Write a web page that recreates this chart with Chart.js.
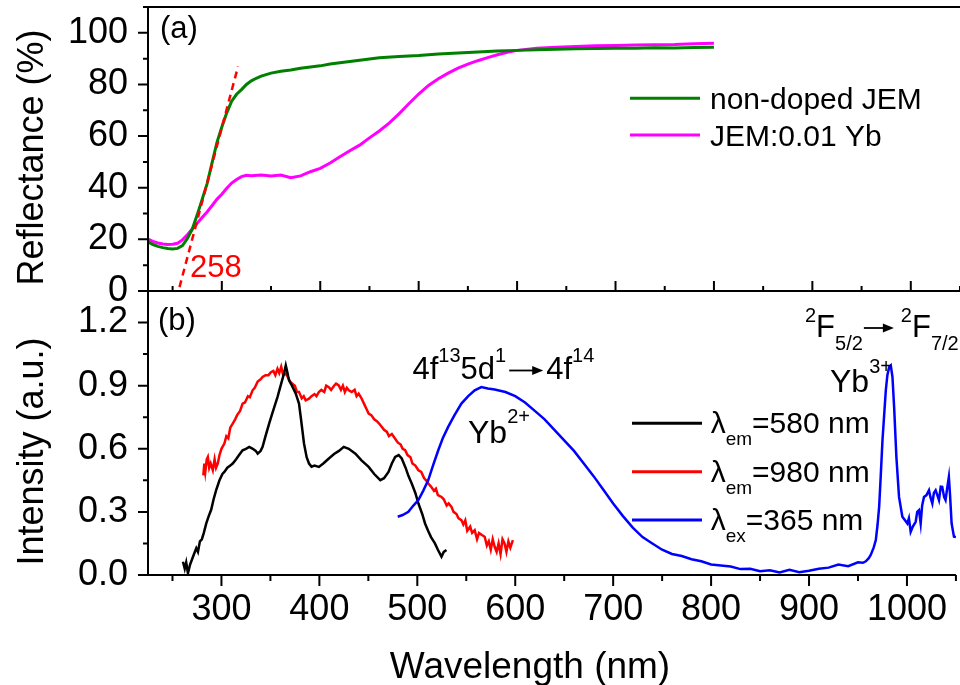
<!DOCTYPE html>
<html><head><meta charset="utf-8">
<script src="https://cdn.jsdelivr.net/npm/chart.js@4.4.1/dist/chart.umd.min.js"></script>
<style>
html,body{margin:0;padding:0;background:#fff;}
#wrap{position:relative;width:960px;height:685px;overflow:hidden;background:#fff;}
canvas{position:absolute;left:0;top:0;}
</style></head><body>
<div id="wrap"><canvas id="cb" width="960" height="685"></canvas><canvas id="ct" width="960" height="685"></canvas></div>
<script>
// ---------- data ----------
const seriesTop = ['non-doped JEM', 'JEM:0.01 Yb'];
const wlNonDoped = [225,230,235,240,245,250,255,260,265,270,275,280,285,290,295,300,305,310,315,320,325,330,335,340,345,350,360,370,380,390,400,410,420,440,460,480,500,520,540,560,580,600,620,640,660,680,700,720,740,760,780,800];
const reflNonDoped = [19.1,18.0,17.3,16.8,16.5,16.3,16.5,17.6,20.3,24.0,29.5,35.5,41.5,49.5,57.5,63.5,69.0,73.5,76.2,78.0,80.0,81.4,82.4,83.2,83.8,84.4,85.1,85.6,86.3,86.8,87.2,87.9,88.4,89.4,90.3,90.8,91.2,91.8,92.2,92.6,93.0,93.2,93.4,93.6,93.8,93.9,94.0,94.0,94.2,94.1,94.3,94.4];
const wlDoped = [225,230,235,240,245,250,255,260,265,270,275,280,285,290,295,300,305,310,315,320,325,330,340,350,360,370,380,390,400,410,420,430,440,450,460,470,480,490,500,510,520,530,540,550,560,570,580,590,600,620,640,660,680,700,720,740,760,780,800];
const reflDoped = [20.1,19.2,18.6,18.2,18.0,18.1,18.5,19.8,21.8,24.0,26.2,28.5,30.6,33.0,35.5,37.5,39.8,41.8,43.2,44.3,44.8,44.6,44.9,44.5,44.9,43.9,44.6,46.2,47.5,49.6,52.0,54.3,56.5,59.3,62.0,65.0,68.6,72.5,76.3,79.6,82.2,84.4,86.3,87.9,89.2,90.4,91.5,92.5,93.2,94.0,94.4,94.7,95.0,95.1,95.3,95.4,95.5,95.8,96.0];
const tangentWl = [257, 316.5];
const tangentRefl = [1.5, 87];
const edgeLabel = '258';

const seriesBottom = [['λ','em','=580 nm'], ['λ','em','=980 nm'], ['λ','ex','=365 nm']];
const wlEm580 = [260.7,262.5,264,265.8,268,270,272,274.3,276,278,280,282,284.5,287,289.5,292,294.6,298,301,303,306,309,311.5,315,318,321.6,325,328.4,332,335,337,340,342,345,348.7,352,357.2,361,364,365.7,367,369,372,375.9,379.2,381,384.3,387,389.4,392,395,399.5,404,409.7,415,420,424.9,430,436.8,443,450.3,456,462.2,466,470.6,474,477.4,481,484.1,488,491,494.3,498,501.1,505,507.9,511,514,518,521,524.7,527,529.8];
const intEm580 = [0.063,0.03,0.06,0.008,0.05,0.075,0.1,0.127,0.11,0.16,0.17,0.2,0.245,0.28,0.31,0.36,0.403,0.45,0.48,0.49,0.51,0.52,0.53,0.55,0.57,0.593,0.6,0.609,0.6,0.59,0.577,0.59,0.609,0.66,0.72,0.77,0.846,0.91,0.96,0.996,0.97,0.925,0.9,0.862,0.815,0.75,0.625,0.56,0.53,0.515,0.52,0.514,0.53,0.554,0.575,0.59,0.609,0.6,0.577,0.545,0.514,0.48,0.451,0.46,0.49,0.53,0.561,0.57,0.554,0.51,0.47,0.435,0.39,0.34,0.29,0.245,0.21,0.18,0.15,0.12,0.087,0.11,0.119];
const wlEm980 = [281.5,282.5,283.5,285,286.1,287.5,289,291.2,293,294.5,296.3,298,300,303,305,307,309,311.5,314,316,319,321.6,324,327,329,331.8,334,337,340,342,345,348,350.5,353,355,357.2,359,361,363,365.7,368,370,372.4,375,377,379.2,382,384,386,389.4,392,395,397,399.5,402,405,407,409.7,412,415,417,419.8,422,424,426,428,430,433,436,438,440.1,443,446,448,450.3,453,456,459,461,463.8,466,469,471,474,477.4,480,483,485,487.6,490,493,495,498,501.1,504,507,509,511.2,514,517,519,521,524.7,527,530,532,534.9,537,540,542,545,547,549,551,554,556,558.6,561,563,566,568.8,571,573,575,577,579,581,583,585,587,589.1,591,593,595,597.6];
const intEm980 = [0.474,0.53,0.49,0.55,0.561,0.51,0.53,0.498,0.55,0.51,0.53,0.57,0.6,0.625,0.66,0.65,0.7,0.72,0.74,0.76,0.78,0.815,0.82,0.85,0.845,0.878,0.89,0.92,0.93,0.941,0.95,0.95,0.964,0.97,0.95,0.98,0.96,0.99,0.95,0.957,0.94,0.92,0.909,0.9,0.87,0.87,0.84,0.85,0.83,0.838,0.85,0.86,0.85,0.87,0.88,0.87,0.9,0.893,0.88,0.9,0.91,0.901,0.88,0.9,0.87,0.89,0.878,0.87,0.88,0.85,0.862,0.84,0.81,0.79,0.767,0.76,0.74,0.73,0.72,0.704,0.69,0.68,0.66,0.67,0.648,0.63,0.62,0.6,0.593,0.57,0.56,0.53,0.52,0.498,0.49,0.46,0.45,0.435,0.42,0.4,0.41,0.38,0.371,0.36,0.33,0.34,0.324,0.3,0.29,0.27,0.261,0.24,0.26,0.21,0.23,0.2,0.213,0.17,0.2,0.19,0.182,0.14,0.16,0.12,0.17,0.134,0.11,0.15,0.1,0.17,0.15,0.11,0.16,0.13,0.166];
const wlEx365 = [480,485,490.9,496,501.1,506,511.2,516,521.4,526,531.5,538,545,552,558.6,565.4,572,579,590,600,610,620,630,640,650,660,670,680,690,700,710,720,730,740,750,760,770,780,790,800,810,820,830,840,850,860,870,880,890,900,910,920,930,940,950,955,958,961,963,966,968.2,970,971.6,973,975,977,978.4,980,981.8,983.5,985.2,986.9,989.2,991.9,995.3,998,1000.4,1002,1003.8,1006,1008.9,1010.5,1012.3,1014,1015.5,1017.4,1020,1022.5,1024,1025.9,1027.5,1029.3,1031,1032.7,1034.5,1036,1038,1039.4,1041,1042.8,1044,1045.6,1048,1050];
const intEx365 = [0.277,0.285,0.3,0.33,0.356,0.4,0.451,0.52,0.593,0.65,0.704,0.76,0.815,0.85,0.878,0.893,0.887,0.882,0.87,0.85,0.82,0.78,0.74,0.69,0.64,0.59,0.53,0.47,0.405,0.34,0.28,0.225,0.18,0.15,0.12,0.1,0.09,0.075,0.065,0.05,0.045,0.04,0.028,0.03,0.018,0.022,0.012,0.025,0.013,0.02,0.03,0.035,0.05,0.042,0.06,0.058,0.065,0.08,0.095,0.13,0.166,0.24,0.324,0.45,0.64,0.78,0.878,0.95,0.988,0.996,0.941,0.798,0.561,0.371,0.277,0.26,0.245,0.27,0.205,0.23,0.253,0.3,0.308,0.245,0.33,0.371,0.38,0.403,0.37,0.34,0.39,0.403,0.38,0.356,0.42,0.419,0.37,0.356,0.41,0.466,0.38,0.245,0.182,0.18];

const xMajorTicks = [300,400,500,600,700,800,900,1000];
const xMinorTicks = [250,350,450,550,650,750,850,950,1050];
const yTopMajor = [0,20,40,60,80,100];
const yTopMinor = [10,30,50,70,90,110];
const yBotMajor = [0,0.3,0.6,0.9,1.2];
const yBotMinor = [0.15,0.45,0.75,1.05,1.35];

// ---------- helpers ----------
const FONT = '"Liberation Sans", Arial, Helvetica, sans-serif';
function pts(xs, ys){ return xs.map((x,i)=>({x:x, y:ys[i]})); }
function line(ctx, x1, y1, x2, y2){ ctx.moveTo(x1,y1); ctx.lineTo(x2,y2); }
function arrow(ctx, x1, x2, y){
  ctx.save();
  ctx.strokeStyle = ctx.fillStyle; ctx.lineWidth = 1.8;
  ctx.beginPath(); ctx.moveTo(x1, y); ctx.lineTo(x2 - 8, y); ctx.stroke();
  ctx.beginPath(); ctx.moveTo(x2, y); ctx.lineTo(x2 - 11, y - 4.5); ctx.lineTo(x2 - 11, y + 4.5); ctx.closePath(); ctx.fill();
  ctx.restore();
}
// parts: [text, size, dy]  or ['ARROW', {pre, len, post, dy}]
function rich(ctx, x, y, parts){
  let cx = x;
  for (const p of parts){
    if (p[0] === 'ARROW'){
      const o = p[1];
      arrow(ctx, cx + o.pre, cx + o.pre + o.len, y + o.dy);
      cx += o.pre + o.len + o.post;
      continue;
    }
    const [t, size, dy] = p;
    ctx.font = size + 'px ' + FONT;
    ctx.fillText(t, cx, y + dy);
    cx += ctx.measureText(t).width;
  }
  return cx;
}
const noPad = w => s => { s.width = w; s.paddingTop = 0; s.paddingBottom = 0; };

const COLORS = {green:'#008000', magenta:'#ff00ff', red:'#ff0000', black:'#000000', blue:'#0000ff'};

// ---------- top panel ----------
const topPlugin = {
  id: 'topDecor',
  afterDraw(chart){
    const {ctx, chartArea:a, scales:{x, y}} = chart;
    ctx.save();
    ctx.strokeStyle = '#000'; ctx.lineWidth = 2;
    ctx.beginPath();
    line(ctx, a.left, a.bottom + 1, a.left, a.top);
    line(ctx, a.left - 1, a.top, a.right, a.top);
    line(ctx, a.left - 1, a.bottom, a.right, a.bottom);
    yTopMajor.forEach(v => { const p = y.getPixelForValue(v); line(ctx, a.left - 10, p, a.left, p); });
    yTopMinor.forEach(v => { const p = y.getPixelForValue(v); line(ctx, a.left - 5, p, a.left, p); });
    xMajorTicks.forEach(v => { const p = x.getPixelForValue(v); line(ctx, p, a.bottom, p, a.bottom - 10); });
    xMinorTicks.forEach(v => { const p = x.getPixelForValue(v); line(ctx, p, a.bottom, p, a.bottom - 5); });
    ctx.stroke();

    ctx.fillStyle = '#000'; ctx.textBaseline = 'alphabetic'; ctx.textAlign = 'left';
    ctx.font = '31px ' + FONT; ctx.fillText('(a)', 160, 38);
    ctx.fillStyle = COLORS.red; ctx.fillText(edgeLabel, 190, 277);

    // legend
    const ds = chart.data.datasets;
    const rows = [[ds[1], 98.3, 109.3], [ds[2], 135, 146]];
    ctx.lineWidth = 3;
    rows.forEach(([d, ly, by]) => {
      ctx.strokeStyle = d.borderColor; ctx.beginPath(); line(ctx, 630, ly, 700, ly); ctx.stroke();
      ctx.fillStyle = '#000'; ctx.font = '30px ' + FONT; ctx.fillText(d.label, 710, by);
    });

    // y title
    ctx.save();
    ctx.translate(43, 157.5); ctx.rotate(-Math.PI/2);
    ctx.textAlign = 'center'; ctx.fillStyle = '#000'; ctx.font = '36px ' + FONT;
    ctx.fillText('Reflectance (%)', 0, 0);
    ctx.restore();
    ctx.restore();
  }
};

new Chart(document.getElementById('ct'), {
  type: 'line',
  data: { datasets: [
    {label:'tangent', data: pts(tangentWl, tangentRefl), borderColor: COLORS.red, borderWidth: 2.5, borderDash:[7,5], pointRadius:0, tension:0, order:0},
    {label: seriesTop[0], data: pts(wlNonDoped, reflNonDoped), borderColor: COLORS.green, borderWidth: 3, pointRadius:0, tension:0, order:1},
    {label: seriesTop[1], data: pts(wlDoped, reflDoped), borderColor: COLORS.magenta, borderWidth: 3, pointRadius:0, tension:0, order:2}
  ]},
  options: {
    responsive:false, animation:false, events:[],
    layout:{padding:{top:7, bottom:394, left:0, right:0}},
    plugins:{legend:{display:false}, tooltip:{enabled:false}},
    scales:{
      x:{type:'linear', min:225, max:1050, display:false},
      y:{type:'linear', min:0, max:110,
        afterFit: noPad(148),
        afterBuildTicks: s => { s.ticks = yTopMajor.map(v => ({value:v})); },
        grid:{display:false, drawTicks:false}, border:{display:false},
        ticks:{padding:20, color:'#000', font:{family:FONT, size:36}, callback: v => String(v)}
      }
    }
  },
  plugins:[topPlugin]
});

// ---------- bottom panel ----------
const botPlugin = {
  id: 'botDecor',
  afterDraw(chart){
    const {ctx, chartArea:a, scales:{x, y}} = chart;
    ctx.save();
    ctx.strokeStyle = '#000'; ctx.lineWidth = 2;
    ctx.beginPath();
    line(ctx, a.left, a.bottom + 1, a.left, a.top);
    line(ctx, a.left - 1, a.bottom, a.right, a.bottom);
    yBotMajor.forEach(v => { const p = y.getPixelForValue(v); line(ctx, a.left - 10, p, a.left, p); });
    yBotMinor.forEach(v => { const p = y.getPixelForValue(v); line(ctx, a.left - 5, p, a.left, p); });
    xMajorTicks.forEach(v => { const p = x.getPixelForValue(v); line(ctx, p, a.bottom, p, a.bottom + 11); });
    xMinorTicks.forEach(v => { const p = x.getPixelForValue(v); line(ctx, p, a.bottom, p, a.bottom + 6); });
    ctx.stroke();

    ctx.fillStyle = '#000'; ctx.textBaseline = 'alphabetic'; ctx.textAlign = 'left';
    ctx.font = '31px ' + FONT; ctx.fillText('(b)', 158, 330);
    rich(ctx, 412.5, 379, [['4f',31,0],['13',20,-17],['5d',31,0],['1',20,-17],['ARROW',{pre:3,len:34,post:3,dy:-8.5}],['4f',31,0],['14',20,-17]]);
    rich(ctx, 468, 443, [['Yb',32,0],['2+',20,-20]]);
    rich(ctx, 830, 391.7, [['Yb',32,0],['3+',20,-19]]);
    rich(ctx, 805, 336.7, [['2',20,-15],['F',31,0],['5/2',20,13],['ARROW',{pre:1,len:30,post:7,dy:-8.7}],['2',20,-15],['F',31,0],['7/2',20,13]]);

    // legend
    const ds = chart.data.datasets;
    const rows = [[ds[1], seriesBottom[0], 423.3, 433.3], [ds[2], seriesBottom[1], 471.7, 482], [ds[0], seriesBottom[2], 520, 530.3]];
    ctx.lineWidth = 3;
    rows.forEach(([d, parts, ly, by]) => {
      ctx.strokeStyle = d.borderColor; ctx.beginPath(); line(ctx, 632, ly, 702, ly); ctx.stroke();
      ctx.fillStyle = '#000';
      rich(ctx, 710.7, by, [[parts[0],30,0],[parts[1],19,12],[parts[2],30,0]]);
    });

    // axis titles
    ctx.font = '37px ' + FONT; ctx.textAlign = 'center';
    ctx.fillText('Wavelength (nm)', 530, 678);
    ctx.save();
    ctx.translate(43, 451.5); ctx.rotate(-Math.PI/2);
    ctx.font = '36px ' + FONT;
    ctx.fillText('Intensity (a.u.)', 0, 0);
    ctx.restore();
    ctx.restore();
  }
};

new Chart(document.getElementById('cb'), {
  type: 'line',
  data: { datasets: [
    {label: seriesBottom[2].join(''), data: pts(wlEx365, intEx365), borderColor: COLORS.blue, borderWidth: 2.5, pointRadius:0, tension:0, order:0},
    {label: seriesBottom[0].join(''), data: pts(wlEm580, intEm580), borderColor: COLORS.black, borderWidth: 2.5, pointRadius:0, tension:0, order:1},
    {label: seriesBottom[1].join(''), data: pts(wlEm980, intEm980), borderColor: COLORS.red, borderWidth: 2.5, pointRadius:0, tension:0, order:2}
  ]},
  options: {
    responsive:false, animation:false, events:[],
    layout:{padding:{top:291, bottom:0, left:0, right:0}},
    plugins:{legend:{display:false}, tooltip:{enabled:false}},
    scales:{
      x:{type:'linear', min:225, max:1050,
        afterFit: s => { s.height = 110; },
        afterBuildTicks: s => { s.ticks = xMajorTicks.map(v => ({value:v})); },
        grid:{display:false, drawTicks:false}, border:{display:false},
        ticks:{padding:13, color:'#000', autoSkip:false, maxRotation:0, font:{family:FONT, size:36}, callback: v => String(v)}
      },
      y:{type:'linear', min:0, max:1.35,
        afterFit: noPad(148),
        afterBuildTicks: s => { s.ticks = yBotMajor.map(v => ({value:v})); },
        grid:{display:false, drawTicks:false}, border:{display:false},
        ticks:{padding:20, color:'#000', font:{family:FONT, size:36}, callback: v => Number(v).toFixed(1)}
      }
    }
  },
  plugins:[botPlugin]
});
</script>
</body></html>
